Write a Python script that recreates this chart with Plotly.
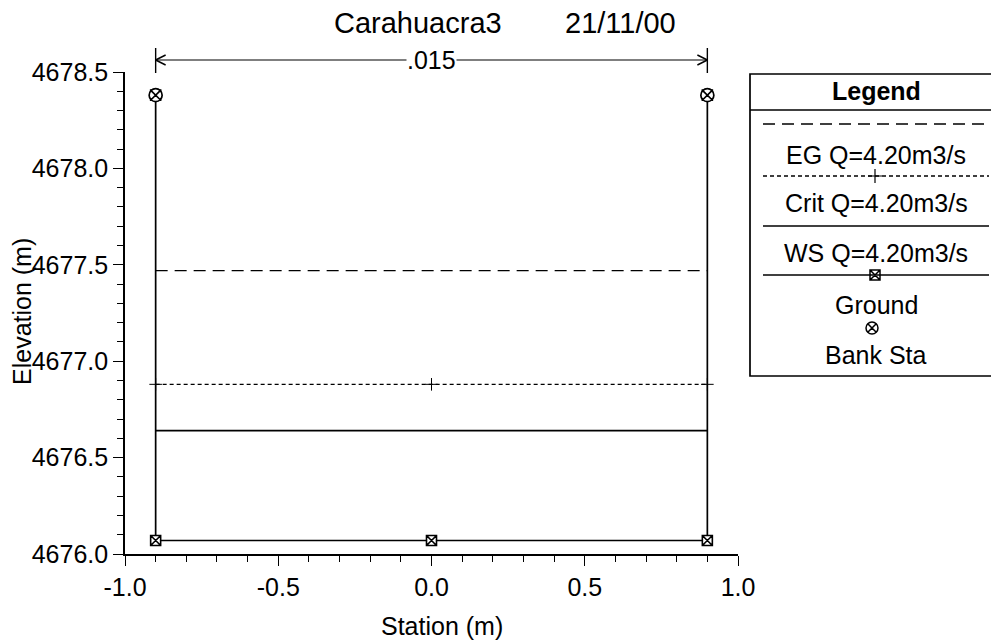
import plotly.graph_objects as go

# ---------------- data ----------------
plan_title = "Carahuacra3"
plan_date = "21/11/00"
manning_n = ".015"

ground_sta = [-0.9, -0.9, 0.0, 0.9, 0.9]
ground_elev = [4678.38, 4676.07, 4676.07, 4676.07, 4678.38]

bank_sta = [-0.9, 0.9]
bank_elev = [4678.38, 4678.38]

eg_elev = 4677.47
crit_elev = 4676.88
ws_elev = 4676.64

legend_labels = ["EG Q=4.20m3/s", "Crit Q=4.20m3/s", "WS Q=4.20m3/s", "Ground", "Bank Sta"]

x_tick_vals = [-1.0, -0.5, 0.0, 0.5, 1.0]
x_tick_text = ["-1.0", "-0.5", "0.0", "0.5", "1.0"]
y_tick_vals = [4676.0, 4676.5, 4677.0, 4677.5, 4678.0, 4678.5]
y_tick_text = ["4676.0", "4676.5", "4677.0", "4677.5", "4678.0", "4678.5"]

x_range = [-1.0, 1.0]
y_range = [4676.0, 4678.5]

# ---------------- layout helpers ----------------
W, H = 991, 643
PL, PR, PT, PB = 125, 738, 72, 554  # plot area in pixels
FONT = "Liberation Sans, Arial, sans-serif"


def X(px):
    return px / W


def Y(py):
    return (H - py) / H


fig = go.Figure()

left, right = min(bank_sta), max(bank_sta)
wet_x = [left, 0.0, right]

# EG
fig.add_trace(go.Scatter(x=[left, right], y=[eg_elev, eg_elev], mode="lines",
                         line=dict(color="black", width=1.4, dash="12px,7px"),
                         hoverinfo="skip", showlegend=False))
# Crit
fig.add_trace(go.Scatter(x=wet_x, y=[crit_elev] * 3, mode="lines+markers",
                         line=dict(color="black", width=1.4, dash="4px,3px"),
                         marker=dict(symbol="cross-thin", size=9, line=dict(color="black", width=1)),
                         hoverinfo="skip", showlegend=False))
# WS
fig.add_trace(go.Scatter(x=[left, right], y=[ws_elev, ws_elev], mode="lines",
                         line=dict(color="black", width=1.6),
                         hoverinfo="skip", showlegend=False))
# Ground
fig.add_trace(go.Scatter(x=ground_sta, y=ground_elev, mode="lines+markers",
                         line=dict(color="black", width=1.7),
                         marker=dict(symbol="square-x", size=10, color="white",
                                     line=dict(color="black", width=1.6)),
                         hoverinfo="skip", showlegend=False))
# Bank stations
fig.add_trace(go.Scatter(x=bank_sta, y=bank_elev, mode="markers",
                         marker=dict(symbol="circle-x", size=13, color="white",
                                     line=dict(color="black", width=1.7)),
                         hoverinfo="skip", showlegend=False))

# ---- legend sample markers on a pixel-overlay axis ----
LCX = 875
fig.add_trace(go.Scatter(x=[LCX], y=[176], xaxis="x2", yaxis="y2", mode="markers",
                         marker=dict(symbol="cross-thin", size=10, line=dict(color="black", width=1.2)),
                         hoverinfo="skip", showlegend=False))
fig.add_trace(go.Scatter(x=[LCX], y=[275], xaxis="x2", yaxis="y2", mode="markers",
                         marker=dict(symbol="square-x", size=10, color="white",
                                     line=dict(color="black", width=1.5)),
                         hoverinfo="skip", showlegend=False))
fig.add_trace(go.Scatter(x=[LCX - 3], y=[328], xaxis="x2", yaxis="y2", mode="markers",
                         marker=dict(symbol="circle-x", size=12, color="white",
                                     line=dict(color="black", width=1.5)),
                         hoverinfo="skip", showlegend=False))

shapes = []
annotations = []

# ---- Manning's n dimension line above the banks ----
arrow_y = 60
for bx in bank_sta:
    shapes.append(dict(type="line", xref="x", yref="paper", x0=bx, x1=bx,
                       y0=Y(48), y1=Y(73), line=dict(color="black", width=1.4)))
shapes.append(dict(type="line", xref="x", yref="paper", x0=left, x1=right,
                   y0=Y(arrow_y), y1=Y(arrow_y), line=dict(color="black", width=1.2)))
ah = 10 / (PR - PL) * (x_range[1] - x_range[0])
for bx, sgn in [(left, 1), (right, -1)]:
    for dy in (-5, 5):
        shapes.append(dict(type="line", xref="x", yref="paper", x0=bx, x1=bx + sgn * ah,
                           y0=Y(arrow_y), y1=Y(arrow_y + dy), line=dict(color="black", width=1.4)))
annotations.append(dict(text=manning_n, x=(left + right) / 2, y=Y(arrow_y), xref="x", yref="paper",
                        showarrow=False, xanchor="center", yanchor="middle", bgcolor="white",
                        borderpad=0, font=dict(family=FONT, size=25, color="black")))

# ---- title ----
annotations.append(dict(text=plan_title, x=X(418), y=Y(23), xref="paper", yref="paper",
                        showarrow=False, xanchor="center", yanchor="middle",
                        font=dict(family=FONT, size=29, color="black")))
annotations.append(dict(text=plan_date, x=X(620), y=Y(23), xref="paper", yref="paper",
                        showarrow=False, xanchor="center", yanchor="middle",
                        font=dict(family=FONT, size=29, color="black")))

# ---- axis titles ----
annotations.append(dict(text="Elevation (m)", x=X(22), y=Y(312), xref="paper", yref="paper",
                        showarrow=False, xanchor="center", yanchor="middle", textangle=-90,
                        font=dict(family=FONT, size=25, color="black")))
annotations.append(dict(text="Station (m)", x=X(442), y=Y(626), xref="paper", yref="paper",
                        showarrow=False, xanchor="center", yanchor="middle",
                        font=dict(family=FONT, size=25, color="black")))

# ---- legend box ----
LB_L, LB_R, LB_T, LB_B = 750, 1002, 74, 376
shapes.append(dict(type="rect", xref="paper", yref="paper", x0=X(LB_L), x1=X(LB_R),
                   y0=Y(LB_B), y1=Y(LB_T), line=dict(color="black", width=1.7)))
shapes.append(dict(type="line", xref="paper", yref="paper", x0=X(LB_L), x1=X(LB_R),
                   y0=Y(110), y1=Y(110), line=dict(color="black", width=1.7)))
annotations.append(dict(text="<b>Legend</b>", x=X(LCX + 1), y=Y(91), xref="paper", yref="paper",
                        showarrow=False, xanchor="center", yanchor="middle",
                        font=dict(family=FONT, size=25, color="black")))
samples = [(124, "12px,7px"), (176, "4px,3px"), (226, "solid"), (275, "solid")]
for sy, dash in samples:
    shapes.append(dict(type="line", xref="paper", yref="paper", x0=X(763), x1=X(989),
                       y0=Y(sy), y1=Y(sy), line=dict(color="black", width=1.5, dash=dash)))
label_y = [155, 203, 253, 305, 355]
for lbl, ly in zip(legend_labels, label_y):
    annotations.append(dict(text=lbl, x=X(LCX + 1), y=Y(ly), xref="paper", yref="paper",
                            showarrow=False, xanchor="center", yanchor="middle",
                            font=dict(family=FONT, size=25, color="black")))

axis_common = dict(showgrid=False, zeroline=False, showline=True, linecolor="black", linewidth=1.6,
                   ticks="outside", tickcolor="black", tickwidth=1.4, ticklen=10,
                   tickfont=dict(family=FONT, size=25, color="black"),
                   automargin=False, mirror=False)

fig.update_layout(
    width=W, height=H, template="none",
    margin=dict(l=0, r=0, t=0, b=0, pad=0),
    paper_bgcolor="white", plot_bgcolor="rgba(0,0,0,0)",
    showlegend=False,
    xaxis=dict(domain=[X(PL), X(PR)], range=x_range, tickmode="array",
               tickvals=x_tick_vals, ticktext=x_tick_text,
               minor=dict(dtick=0.1, tick0=-1.0, ticks="outside", ticklen=6, tickcolor="black", tickwidth=1.3),
               anchor="y", **axis_common),
    yaxis=dict(domain=[Y(PB), Y(PT)], range=y_range, tickmode="array",
               tickvals=y_tick_vals, ticktext=y_tick_text,
               minor=dict(dtick=0.1, tick0=4676.0, ticks="outside", ticklen=6, tickcolor="black", tickwidth=1.3),
               anchor="x", **axis_common),
    xaxis2=dict(domain=[0, 1], range=[0, W], visible=False, anchor="y2", fixedrange=True),
    yaxis2=dict(domain=[0, 1], range=[H, 0], visible=False, anchor="x2", fixedrange=True),
    shapes=shapes,
    annotations=annotations,
)

fig.write_html("out.html")
